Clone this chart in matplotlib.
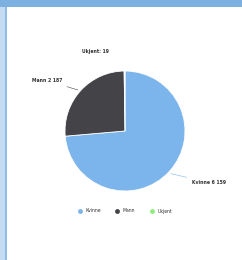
import matplotlib.pyplot as plt
from matplotlib.patches import Rectangle
from matplotlib.lines import Line2D

labels = ["Kvinne", "Mann", "Ukjent"]
values = [6159, 2187, 19]
point_labels = ["Kvinne 6 159", "Mann 2 187", "Ukjent: 19"]
colors = ["#7cb5ec", "#434348", "#90ed7d"]

fig = plt.figure(figsize=(2.42, 2.6), dpi=100)
fig.patch.set_facecolor("white")

# frame decoration: top band and left strip
fig.patches.append(Rectangle((0, 1 - 7 / 260), 1, 7 / 260, transform=fig.transFigure,
                             facecolor="#7bb0e0", edgecolor="none", zorder=0))
fig.patches.append(Rectangle((0, 0), 5 / 242, 1 - 7 / 260, transform=fig.transFigure,
                             facecolor="#c5dbf2", edgecolor="none", zorder=0))
fig.patches.append(Rectangle((5 / 242, 0), 1.5 / 242, 1 - 7 / 260, transform=fig.transFigure,
                             facecolor="#8fbbe8", edgecolor="none", zorder=0))

# pie: centre (125,131) radius 60 px
ax = fig.add_axes([65 / 242, 1 - 191 / 260, 120 / 242, 120 / 260])
wedges, _ = ax.pie(values, colors=colors, startangle=90, counterclock=False,
                   wedgeprops=dict(edgecolor="white", linewidth=0.6))
ax.set_xlim(-1, 1)
ax.set_ylim(-1, 1)
ax.set_aspect("equal")

fs = 3.3
# data labels with connectors
ax.annotate(point_labels[0], xy=(0.72, -0.70), xytext=(1.12, -0.86),
            fontsize=fs, color="#333333", ha="left", va="center", fontweight="bold",
            arrowprops=dict(arrowstyle="-", color="#7cb5ec", lw=0.4))
ax.annotate(point_labels[1], xy=(-0.74, 0.67), xytext=(-1.05, 0.84),
            fontsize=fs, color="#333333", ha="right", va="center", fontweight="bold",
            arrowprops=dict(arrowstyle="-", color="#434348", lw=0.4))
ax.annotate(point_labels[2], xy=(-0.01, 1.0), xytext=(-0.5, 1.33),
            fontsize=fs, color="#333333", ha="center", va="center", fontweight="bold",
            annotation_clip=False)

handles = [Line2D([], [], marker="o", linestyle="none", markersize=3.5,
                  markerfacecolor=c, markeredgecolor="none") for c in colors]
fig.legend(handles, labels, loc="center", bbox_to_anchor=(125 / 242, 1 - 211 / 260),
           ncol=3, frameon=False, fontsize=3.3, handletextpad=0.8, columnspacing=3.2,
           handlelength=0.8, labelcolor="#333333")

fig.savefig("out.png", dpi=100)
